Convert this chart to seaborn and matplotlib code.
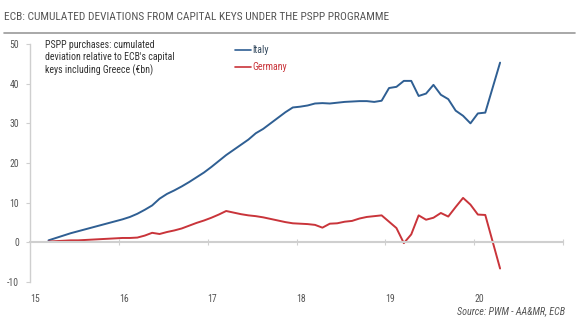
import numpy as np
import pandas as pd
import matplotlib
matplotlib.use("Agg")
import matplotlib.pyplot as plt
from matplotlib import font_manager as fm
import seaborn as sns

# Monthly observations, March 2015 - April 2020 (no March 2020 print)
months = [p.strftime("%Y-%m") for p in pd.period_range("2015-03", "2020-02", freq="M")] + ["2020-04"]

italy = [
    0.5, 1.1, 1.7, 2.3, 2.8, 3.3, 3.8, 4.3, 4.8, 5.3,
    5.8, 6.4, 7.2, 8.2, 9.3, 11.0, 12.2, 13.1, 14.1, 15.2, 16.4, 17.6,
    19.0, 20.5, 22.0, 23.3, 24.6, 25.9, 27.5, 28.6, 30.0, 31.4, 32.8, 34.0,
    34.2, 34.5, 35.0, 35.1, 35.0, 35.2, 35.4, 35.5, 35.6, 35.6, 35.4, 35.7,
    38.9, 39.2, 40.7, 40.7, 36.9, 37.5, 39.7, 37.2, 36.1, 33.2, 31.9, 30.0,
    32.5, 32.7, 45.3,
]
germany = [
    0.2, 0.3, 0.4, 0.5, 0.5, 0.6, 0.7, 0.8, 0.9, 1.0,
    1.1, 1.1, 1.2, 1.7, 2.4, 2.1, 2.6, 3.0, 3.5, 4.2, 4.9, 5.5,
    6.2, 7.0, 7.9, 7.5, 7.1, 6.8, 6.6, 6.3, 5.9, 5.5, 5.1, 4.8,
    4.7, 4.6, 4.4, 3.7, 4.7, 4.8, 5.2, 5.4, 6.0, 6.4, 6.6, 6.8,
    5.2, 3.6, -0.2, 2.0, 6.8, 5.7, 6.2, 7.4, 6.5, 8.9, 11.2, 9.5,
    7.0, 6.9, -6.6,
]
year_ticks = [15, 16, 17, 18, 19, 20, 21]
year_labels = ["15", "16", "17", "18", "19", "20", ""]
y_ticks = [-10, 0, 10, 20, 30, 40, 50]

# short-year axis value, positioned at mid-month
def to_axis(m):
    y, mo = m.split("-")
    return int(y) - 2000 + (int(mo) - 0.5) / 12

x = [to_axis(m) for m in months]
df = pd.concat([
    pd.DataFrame({"x": x, "value": italy, "country": "Italy"}),
    pd.DataFrame({"x": x, "value": germany, "country": "Germany"}),
])

sns.set_theme(style="white")
installed = {f.name for f in fm.fontManager.ttflist}
narrow = [f for f in ["Roboto Condensed", "Archivo Narrow", "Liberation Sans Narrow",
                      "Barlow Semi Condensed", "Asap Condensed"] if f in installed]
plt.rcParams["font.family"] = narrow[:1] + ["DejaVu Sans"]

BLUE = "#2f5f93"
RED = "#c9343a"
AXIS = "#cfcfcf"
TEXT = "#555555"

fig = plt.figure(figsize=(5.8, 3.21), dpi=100)
ax = fig.add_axes([30 / 580, 1 - 282 / 321, 533 / 580, 238 / 321])

sns.lineplot(data=df, x="x", y="value", hue="country",
             palette={"Italy": BLUE, "Germany": RED},
             linewidth=1.4, ax=ax, legend=False, estimator=None)

ax.set_xlim(15, 21)
ax.set_ylim(-10, 50)
ax.set_xlabel("")
ax.set_ylabel("")

for s in ["top", "right"]:
    ax.spines[s].set_visible(False)
ax.spines["left"].set_color(AXIS)
ax.spines["left"].set_linewidth(1.0)
ax.spines["bottom"].set_position(("data", 0))
ax.spines["bottom"].set_color(AXIS)
ax.spines["bottom"].set_linewidth(1.5)

ax.set_yticks(y_ticks)
ax.set_yticklabels([str(v) for v in y_ticks])
ax.tick_params(axis="y", length=3, width=0.8, color=AXIS, direction="out",
               labelsize=7, labelcolor=TEXT, pad=5, left=True)
ax.set_xticks(year_ticks[1:])
ax.tick_params(axis="x", length=5, width=0.8, color=AXIS, direction="inout",
               labelbottom=False, bottom=True)

# year labels along the bottom of the frame
sec = ax.secondary_xaxis("bottom")
sec.spines["bottom"].set_visible(False)
sec.set_xticks(year_ticks)
sec.set_xticklabels(year_labels)
sec.tick_params(length=0, pad=9, labelsize=7, labelcolor=TEXT)
for lab in sec.get_xticklabels():
    lab.set_horizontalalignment("left")

# legend
handles = [plt.Line2D([], [], color=BLUE, lw=1.2), plt.Line2D([], [], color=RED, lw=1.2)]
leg = fig.legend(handles, ["Italy", "Germany"], loc="upper left",
                 bbox_to_anchor=(235 / 580, 1 - 45 / 321), frameon=False,
                 fontsize=7.2, handlelength=1.6, handletextpad=0.1, labelspacing=0.75,
                 borderaxespad=0, borderpad=0)
for t, c in zip(leg.get_texts(), ["#34495e", RED]):
    t.set_color(c)

# chart note
fig.text(45 / 580, 1 - 40 / 321,
         "PSPP purchases: cumulated\ndeviation relative to ECB's capital\nkeys including Greece (€bn)",
         ha="left", va="top", fontsize=7.1, color="#333333", linespacing=1.25)

# title with rule underneath
fig.text(4 / 580, 1 - 17 / 321,
         "ECB: CUMULATED DEVIATIONS FROM CAPITAL KEYS UNDER THE PSPP PROGRAMME",
         ha="left", va="center", fontsize=8.2, color="#555555")
fig.add_artist(plt.Line2D([4 / 580, 575 / 580], [1 - 33 / 321, 1 - 33 / 321],
                          color="#9a9a9a", lw=1.2, transform=fig.transFigure))

# source
fig.text(565 / 580, 1 - 311 / 321, "Source: PWM - AA&MR, ECB",
         ha="right", va="center", fontsize=7.3, color="#555555", style="italic")

fig.savefig("out.png", dpi=100)
